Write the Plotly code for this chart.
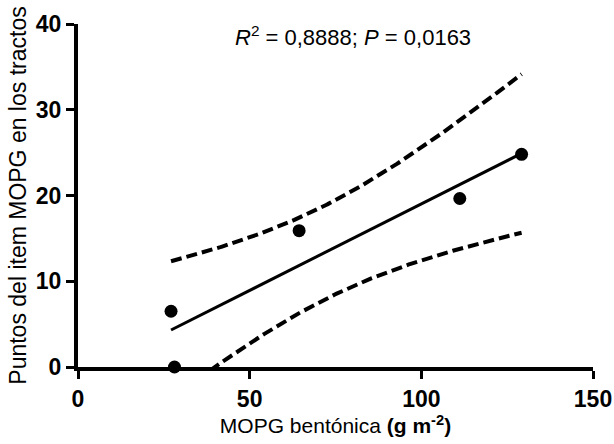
import numpy as np
import plotly.graph_objects as go

# Data
mopg_bentonica = [27.1, 28.1, 64.4, 111.2, 129.2]
puntos_item = [6.5, 0.0, 15.9, 19.65, 24.8]
x_ticks = [0, 50, 100, 150]
y_ticks = [0, 10, 20, 30, 40]
T_CRIT_95_DF3 = 3.182

# Linear regression with 95% confidence band (derived from the data)
x = np.array(mopg_bentonica)
y = np.array(puntos_item)
n = len(x)
slope, intercept = np.polyfit(x, y, 1)
resid = y - (slope * x + intercept)
s = np.sqrt(np.sum(resid ** 2) / (n - 2))
sxx = np.sum((x - x.mean()) ** 2)
xf = np.linspace(x.min(), x.max(), 200)
yf = slope * xf + intercept
half = T_CRIT_95_DF3 * s * np.sqrt(1.0 / n + (xf - x.mean()) ** 2 / sxx)

fig = go.Figure()
fig.add_trace(go.Scatter(x=xf, y=yf + half, mode="lines",
                         line=dict(color="black", width=4, dash="11px,5px"),
                         hoverinfo="skip"))
fig.add_trace(go.Scatter(x=xf, y=yf - half, mode="lines",
                         line=dict(color="black", width=4, dash="11px,5px"),
                         hoverinfo="skip"))
fig.add_trace(go.Scatter(x=[xf[0], xf[-1]], y=[yf[0], yf[-1]], mode="lines",
                         line=dict(color="black", width=3)))
fig.add_trace(go.Scatter(x=x, y=y, mode="markers", cliponaxis=False,
                         marker=dict(color="black", size=13)))

tickfont = dict(family="Liberation Sans, Arial, sans-serif", size=23,
                color="black", weight="bold")

fig.update_layout(
    width=614, height=444,
    margin=dict(l=78, r=21, t=24, b=77),
    plot_bgcolor="white", paper_bgcolor="white",
    showlegend=False,
    font=dict(family="Liberation Sans, Arial, sans-serif", color="black"),
    xaxis=dict(range=[0, 150], tickvals=x_ticks, showgrid=False, zeroline=False,
               showline=True, linecolor="black", linewidth=4, automargin=False,
               ticks="outside", ticklen=8, tickwidth=3, tickcolor="black",
               tickfont=tickfont,
               title=dict(text="MOPG bentónica <b>(g m<sup>-2</sup>)</b>",
                          font=dict(size=21), standoff=6)),
    yaxis=dict(range=[0, 40], tickvals=y_ticks, showgrid=False, zeroline=False,
               showline=True, linecolor="black", linewidth=4, automargin=False,
               ticks="outside", ticklen=8, tickwidth=3, tickcolor="black",
               tickfont=tickfont,
               title=dict(text="Puntos del item MOPG en los tractos",
                          font=dict(size=23), standoff=4)),
    annotations=[dict(x=80, y=38.6, xref="x", yref="y", showarrow=False,
                      text="<i>R</i><sup>2</sup> = 0,8888; <i>P</i> = 0,0163",
                      font=dict(size=22, color="black"))],
)

fig.write_html("out.html")
